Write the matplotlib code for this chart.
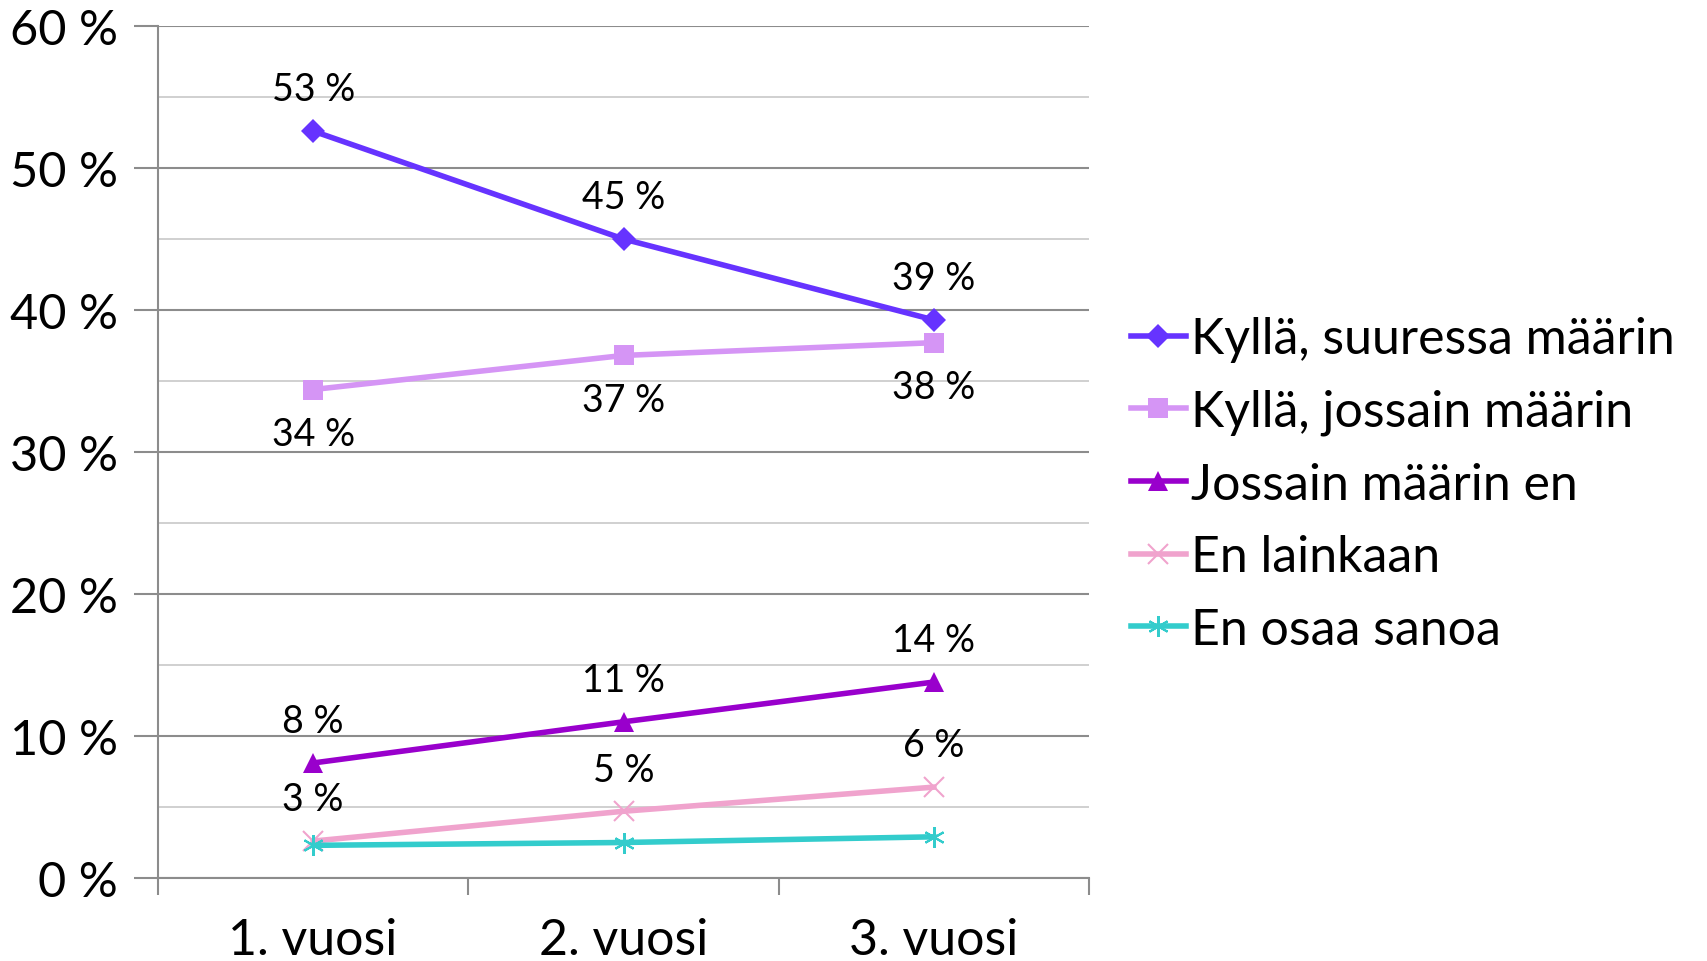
import numpy as np
import matplotlib
matplotlib.use("Agg")
import matplotlib.pyplot as plt
from matplotlib.ticker import MultipleLocator

plt.rcParams['font.family'] = ['Lato', 'DejaVu Sans']

categories = ["1. vuosi", "2. vuosi", "3. vuosi"]
series_names = ["Kyllä, suuressa määrin", "Kyllä, jossain määrin",
                "Jossain määrin en", "En lainkaan", "En osaa sanoa"]
suuressa = [52.6, 45.0, 39.3]
jossain = [34.4, 36.8, 37.7]
jossain_en = [8.1, 11.0, 13.8]
en_lainkaan = [2.6, 4.7, 6.4]
en_osaa = [2.3, 2.5, 2.9]
labels_suuressa = ["53 %", "45 %", "39 %"]
labels_jossain = ["34 %", "37 %", "38 %"]
labels_jossain_en = ["8 %", "11 %", "14 %"]
labels_en_lainkaan = ["3 %", "5 %", "6 %"]

colors = ["#6633FF", "#D595F5", "#9900CC", "#F0A3CD", "#33CCCC"]
markers = ["D", "s", "^", "x", (6, 2, 0)]

fig = plt.figure(figsize=(17.07, 9.62), dpi=100)
ax = fig.add_axes([158/1707, 1-879/962, (1089-158)/1707, (879-27)/962])

x = np.arange(len(categories))
data = [suuressa, jossain, jossain_en, en_lainkaan, en_osaa]
msizes = [12, 14, 14, 14, 15]
for vals, name, c, m, ms in zip(data, series_names, colors, markers, msizes):
    thin = m == "x" or isinstance(m, tuple)
    ax.plot(x, vals, color=c, lw=4, marker=m, ms=ms, mew=1.5 if thin else 0,
            mec=c, label=name, zorder=3)

# data labels
def put_labels(vals, labs, dy):
    for xi, v, t in zip(x, vals, labs):
        ax.annotate(t, (xi, v), xytext=(0, dy), textcoords="offset points",
                    ha="center", va="center", fontsize=27, color="black")

put_labels(suuressa, labels_suuressa, 30)
put_labels(jossain, labels_jossain, -32)
put_labels(jossain_en, labels_jossain_en, 30)
put_labels(en_lainkaan, labels_en_lainkaan, 30)

ax.set_xlim(-0.5, 2.5)
ax.set_ylim(0, 60)
ax.yaxis.set_major_locator(MultipleLocator(10))
ax.yaxis.set_minor_locator(MultipleLocator(5))
ax.set_yticklabels([f"{int(v)} %" for v in ax.get_yticks()])
ax.set_xticks(x)
ax.set_xticklabels(categories)
ax.set_xticks([-0.5, 0.5, 1.5, 2.5], minor=True)

ax.grid(axis="y", which="major", color="#8C8C8C", lw=1.5, zorder=0)
ax.grid(axis="y", which="minor", color="#C8C8C8", lw=1.2, zorder=0)
for s in ["top", "right"]:
    ax.spines[s].set_visible(False)
for s in ["left", "bottom"]:
    ax.spines[s].set_color("#8C8C8C")
    ax.spines[s].set_linewidth(1.5)

ax.tick_params(axis="y", which="major", length=17, width=1.5, color="#8C8C8C",
               labelsize=35, pad=12)
ax.tick_params(axis="y", which="minor", length=0)
ax.tick_params(axis="x", which="major", length=0, labelsize=36, pad=28)
ax.tick_params(axis="x", which="minor", length=12, width=1.5, color="#8C8C8C")

leg = ax.legend(loc="center left", bbox_to_anchor=(1.045, 0.462), frameon=False,
                fontsize=36, handlelength=1.1, handletextpad=0.1, labelspacing=0.53,
                borderaxespad=0, borderpad=0)

fig.savefig("out.png", dpi=100)
